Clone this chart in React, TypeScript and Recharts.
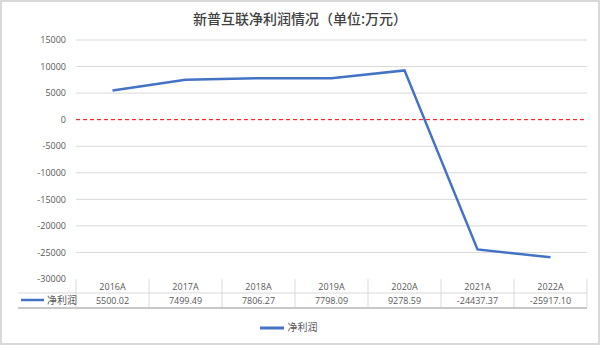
import React from "react";
import { LineChart, Line, XAxis, YAxis, CartesianGrid, ReferenceLine, Legend } from "recharts";

const categories = ["2016A", "2017A", "2018A", "2019A", "2020A", "2021A", "2022A"];
const netProfit = [5500.02, 7499.49, 7806.27, 7798.09, 9278.59, -24437.37, -25917.1];
const valueLabels = ["5500.02", "7499.49", "7806.27", "7798.09", "9278.59", "-24437.37", "-25917.10"];
const yTicks = [15000, 10000, 5000, 0, -5000, -10000, -15000, -20000, -25000, -30000];
const gridValues = [15000, 10000, 5000, -5000, -10000, -15000, -20000, -25000];
const seriesName = "净利润";

const data = categories.map((c, i) => ({ year: c, value: netProfit[i] }));

const GRID = "#d9d9d9";
const TXT = "#595959";
const BLUE = "#4472C4";
const PLOT_W = 511;
const BAND = PLOT_W / categories.length;

const TableTick = (props: any) => {
  const { x, y, payload, index } = props;
  const top = y - 8;
  const left = x - BAND / 2;
  const right = x + BAND / 2;
  const rowH = 14;
  return (
    <g>
      {index === 0 && (
        <g>
          <line x1={18} x2={left} y1={top + rowH} y2={top + rowH} stroke={GRID} strokeWidth={1} />
          <line x1={18} x2={left} y1={top + rowH * 2 + 1} y2={top + rowH * 2 + 1} stroke="#c8c8c8" strokeWidth={2} />
          <line x1={left} x2={left} y1={top} y2={top + rowH * 2} stroke={GRID} strokeWidth={1} />
          <line x1={21} x2={44} y1={top + rowH * 1.5} y2={top + rowH * 1.5} stroke={BLUE} strokeWidth={2.5} />
          <text x={47} y={top + rowH * 1.5 + 4} fontSize={10} fill={TXT} fontFamily="Noto Sans CJK SC">{seriesName}</text>
        </g>
      )}
      <line x1={left} x2={right} y1={top + rowH} y2={top + rowH} stroke={GRID} strokeWidth={1} />
      <line x1={left} x2={right} y1={top + rowH * 2 + 1} y2={top + rowH * 2 + 1} stroke="#c8c8c8" strokeWidth={2} />
      <line x1={right} x2={right} y1={top} y2={top + rowH * 2} stroke={GRID} strokeWidth={1} />
      <text x={x} y={top + 10.5} textAnchor="middle" fontSize={9} fill={TXT} fontFamily="Open Sans">{payload.value}</text>
      <text x={x} y={top + rowH + 10.5} textAnchor="middle" fontSize={9} fill={TXT} fontFamily="Open Sans">{valueLabels[index]}</text>
    </g>
  );
};

export default function App() {
  return (
    <div style={{ position: "absolute", left: 0, top: 0, width: 600, height: 345, background: "#fff", boxSizing: "border-box", border: "2px solid #d9d9d9" }}>
      <div style={{ position: "absolute", left: 0, top: 6, width: 596, textAlign: "center", fontFamily: "Noto Sans CJK SC", fontSize: 14, color: "#404040", fontWeight: 500 }}>
        新普互联净利润情况（单位:万元）
      </div>
      <div style={{ position: "absolute", left: -2, top: -2 }}>
        <LineChart width={600} height={345} data={data} margin={{ top: 40, right: 13, bottom: 12, left: 0 }}>
          <CartesianGrid horizontal vertical={false} horizontalValues={gridValues} stroke={GRID} strokeWidth={1} />
          <XAxis
            dataKey="year"
            axisLine={false}
            tickLine={false}
            height={30}
            tick={<TableTick />}
            interval={0}
            padding={{ left: BAND / 2, right: BAND / 2 }}
          />
          <YAxis
            domain={[-30000, 15000]}
            ticks={yTicks}
            width={76}
            axisLine={false}
            tickLine={false}
            interval={0}
            tick={{ fontSize: 9, fill: TXT, fontFamily: "Open Sans" }}
            tickMargin={4}
          />
          <ReferenceLine y={0} stroke="#ff0000" strokeDasharray="4 3" strokeWidth={1} />
          <Legend
            verticalAlign="bottom"
            align="center"
            iconType="plainline"
            iconSize={24}
            wrapperStyle={{ fontSize: 10, fontFamily: "Noto Sans CJK SC", bottom: 5 }}
            formatter={(v: string) => <span style={{ color: TXT }}>{v}</span>}
          />
          <Line
            type="linear"
            dataKey="value"
            name={seriesName}
            stroke={BLUE}
            strokeWidth={2.5}
            dot={false}
            isAnimationActive={false}
          />
        </LineChart>
      </div>
    </div>
  );
}
